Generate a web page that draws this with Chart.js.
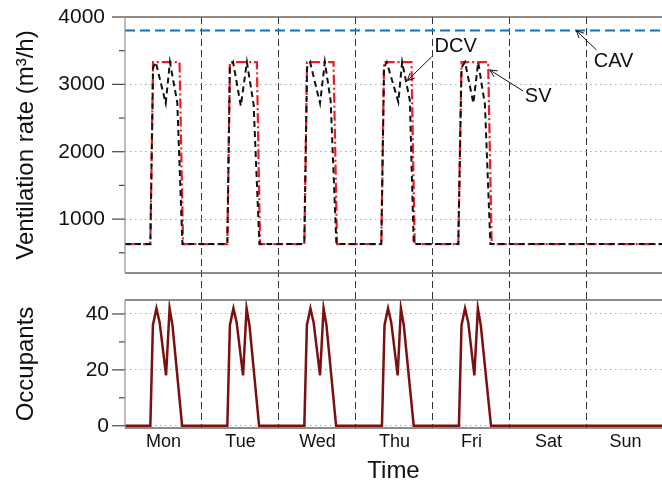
<!DOCTYPE html>
<html>
<head>
<meta charset="utf-8">
<script src="https://cdn.jsdelivr.net/npm/chart.js@4"></script>
<style>
  body { margin: 0; background: #fff; }
  #wrap { width: 662px; height: 487px; }
</style>
</head>
<body>
<div id="wrap"><canvas id="chart" width="662" height="487"></canvas></div>
<script>
// Time axis: hours from Monday 00:00, one week
const dayLabels = ['Mon', 'Tue', 'Wed', 'Thu', 'Fri', 'Sat', 'Sun'];
const dayNoon = [12, 36, 60, 84, 108, 132, 156];

// Axis ticks
const ventMajor = [1000, 2000, 3000, 4000];
const ventMinor = [500, 1500, 2500, 3500];
const occMajor = [0, 20, 40];
const occMinor = [10, 30];

// CAV - constant air volume (m3/h)
const cavTime = [0, 168];
const cavRate = [3800, 3800];

// SV - scheduled ventilation (m3/h)
const svTime = [0, 7.9, 8.75, 17.0, 18.1, 31.9, 32.7, 41.1, 42.1, 55.9, 56.75, 65.0, 66.1,
  79.9, 80.75, 89.3, 90.3, 103.9, 104.9, 113.2, 114.3, 168];
const svRate = [630, 630, 3330, 3330, 630, 630, 3330, 3330, 630, 630, 3330, 3330, 630,
  630, 3330, 3330, 630, 630, 3330, 3330, 630, 630];

// DCV - demand controlled ventilation (m3/h)
const dcvTime = [0, 7.9, 8.75, 9.6, 12.7, 14.0, 16.3, 17.9,
  31.9, 32.7, 33.7, 36.1, 38.0, 40.1, 41.9,
  55.9, 56.75, 57.7, 60.8, 62.3, 64.1, 65.9,
  79.9, 80.75, 81.6, 85.2, 86.4, 88.8, 90.0,
  103.9, 104.9, 106.0, 108.6, 110.1, 112.2, 113.9,
  168];
const dcvRate = [630, 630, 3250, 3330, 2720, 3330, 2730, 630,
  630, 3250, 3330, 2680, 3330, 2700, 630,
  630, 3250, 3330, 2720, 3330, 2760, 630,
  630, 3250, 3330, 2740, 3330, 2760, 630,
  630, 3250, 3330, 2720, 3330, 2700, 630,
  630];

// Occupants
const occTime = [0, 7.9, 8.7, 9.8, 10.8, 12.8, 13.9, 14.8, 17.8,
  31.9, 32.7, 33.8, 34.8, 36.8, 37.9, 38.8, 41.8,
  55.9, 56.7, 57.8, 58.8, 60.8, 61.9, 62.8, 65.8,
  80.1, 80.9, 82.0, 83.0, 85.0, 86.0, 86.9, 90.0,
  104.1, 104.9, 106.0, 107.0, 108.9, 110.0, 110.9, 114.1,
  168];
const occCount = [0, 0, 36, 42, 37, 18, 42, 36, 0,
  0, 36, 42, 37, 18, 42, 36, 0,
  0, 36, 42, 37, 18, 42, 36, 0,
  0, 36, 42, 37, 18, 42, 36, 0,
  0, 36, 42, 37, 18, 42, 36, 0,
  0];

const font = "'Liberation Sans', Arial, sans-serif";
const toXY = (xs, ys) => xs.map((t, i) => ({x: t, y: ys[i]}));

// arrow labels, in data coordinates of x / yVent
const notes = [
  {text: 'DCV', tx: 103.1, ty: 3555, x0: 95.6, y0: 3411, x1: 88.0, y1: 3055},
  {text: 'SV',  tx: 128.8, ty: 2817, x0: 124.1, y0: 2902, x1: 113.7, y1: 3214},
  {text: 'CAV', tx: 152.3, ty: 3337, x0: 147.0, y0: 3510, x1: 140.7, y1: 3797}
];

// frames, tick marks and arrow labels
const extras = {
  id: 'extras',
  afterDraw(chart) {
    const {ctx, chartArea: {left, right}} = chart;
    const line = (x0, y0, x1, y1) => { ctx.beginPath(); ctx.moveTo(x0, y0); ctx.lineTo(x1, y1); ctx.stroke(); };
    ctx.save();
    [['yVent', ventMajor, ventMinor], ['yOcc', occMajor, occMinor]].forEach(([id, major, minor]) => {
      const s = chart.scales[id];
      ctx.strokeStyle = '#444';
      ctx.lineWidth = 1.2;
      major.forEach(v => { const y = s.getPixelForValue(v); line(left - 13, y, left, y); });
      minor.forEach(v => { const y = s.getPixelForValue(v); line(left - 6, y, left, y); });
      ctx.strokeStyle = '#666';
      ctx.lineWidth = 1.3;
      line(left, s.top, right, s.top);
      line(left, s.bottom, right, s.bottom);
      ctx.strokeStyle = '#999';
      line(left, s.top, left, s.bottom);
    });

    const xs = chart.scales.x, ys = chart.scales.yVent;
    ctx.fillStyle = '#111';
    ctx.strokeStyle = '#111';
    ctx.lineWidth = 1;
    ctx.font = '20px ' + font;
    ctx.textAlign = 'center';
    ctx.textBaseline = 'middle';
    notes.forEach(n => {
      ctx.fillText(n.text, xs.getPixelForValue(n.tx), ys.getPixelForValue(n.ty));
      const x0 = xs.getPixelForValue(n.x0), y0 = ys.getPixelForValue(n.y0);
      const x1 = xs.getPixelForValue(n.x1), y1 = ys.getPixelForValue(n.y1);
      line(x0, y0, x1, y1);
      const a = Math.atan2(y1 - y0, x1 - x0);
      [0.45, -0.45].forEach(d => line(x1, y1, x1 - 8 * Math.cos(a + d), y1 - 8 * Math.sin(a + d)));
    });
    ctx.restore();
  }
};

const fitY = s => { s.width = 113; s.paddingTop = 0; s.paddingBottom = 0; };

const ctx = document.getElementById('chart').getContext('2d');
const chart = new Chart(ctx, {
  type: 'line',
  data: {
    datasets: [
      {label: 'DCV', data: toXY(dcvTime, dcvRate), yAxisID: 'yVent', order: 1,
        borderColor: '#111', borderWidth: 2, borderDash: [6, 4]},
      {label: 'SV', data: toXY(svTime, svRate), yAxisID: 'yVent', order: 2,
        borderColor: '#ee1c25', borderWidth: 2.2, borderDash: [10, 3, 2, 3]},
      {label: 'CAV', data: toXY(cavTime, cavRate), yAxisID: 'yVent', order: 3,
        borderColor: '#0a72c4', borderWidth: 2, borderDash: [10, 5]},
      {label: 'Occupants', data: toXY(occTime, occCount), yAxisID: 'yOcc', order: 4,
        borderColor: '#7a1010', borderWidth: 2.5}
    ]
  },
  options: {
    responsive: false,
    animation: false,
    devicePixelRatio: 1,
    layout: {padding: {left: 12, top: 17, right: 0, bottom: 0}},
    elements: {point: {radius: 0}, line: {tension: 0, fill: false}},
    plugins: {legend: {display: false}, tooltip: {enabled: false}},
    scales: {
      x: {
        type: 'linear', min: 0, max: 167.4,
        afterBuildTicks: s => { s.ticks = dayNoon.map(v => ({value: v})); },
        afterFit: s => { s.height = 59; s.paddingLeft = 0; s.paddingRight = 0; },
        ticks: {autoSkip: false, maxRotation: 0, padding: 3, color: '#111',
          font: {family: font, size: 18}, callback: (v, i) => dayLabels[i]},
        grid: {offset: true, drawTicks: false, lineWidth: 1,
          color: c => c.index === 0 ? 'transparent' : '#333'},
        border: {display: false, dash: [7, 4]},
        title: {display: true, text: 'Time', color: '#111',
          font: {family: font, size: 24}, padding: {top: 0, bottom: 1}}
      },
      yOcc: {
        type: 'linear', position: 'left', stack: 'plots', stackWeight: 128,
        min: -0.8, max: 45,
        afterBuildTicks: s => { s.ticks = [...occMajor, ...occMinor].sort((a, b) => a - b).map(v => ({value: v})); },
        afterFit: fitY,
        ticks: {autoSkip: false, padding: 16, color: '#111', font: {family: font, size: 21},
          callback: v => occMajor.includes(v) ? String(v) : ''},
        grid: {drawTicks: false, lineWidth: 1,
          color: c => c.tick && occMajor.includes(c.tick.value) ? '#aaa' : 'transparent'},
        border: {display: false, dash: [1.5, 3.5]},
        title: {display: true, text: 'Occupants', color: '#111',
          font: {family: font, size: 24}, padding: 0}
      },
      yGap: {
        type: 'linear', position: 'left', stack: 'plots', stackWeight: 27,
        afterFit: fitY,
        ticks: {display: false}, grid: {display: false}, border: {display: false}
      },
      yVent: {
        type: 'linear', position: 'left', stack: 'plots', stackWeight: 256,
        min: 200, max: 4000,
        afterBuildTicks: s => { s.ticks = [...ventMajor, ...ventMinor].sort((a, b) => a - b).map(v => ({value: v})); },
        afterFit: fitY,
        ticks: {autoSkip: false, padding: 20, color: '#111', font: {family: font, size: 21},
          callback: v => ventMajor.includes(v) ? String(v) : ''},
        grid: {drawTicks: false, lineWidth: 1,
          color: c => c.tick && ventMajor.includes(c.tick.value) && c.tick.value < 4000 ? '#aaa' : 'transparent'},
        border: {display: false, dash: [1.5, 3.5]},
        title: {display: true, text: 'Ventilation rate (m³/h)', color: '#111',
          font: {family: font, size: 24}, padding: 0}
      }
    }
  },
  plugins: [extras]
});
</script>
</body>
</html>
